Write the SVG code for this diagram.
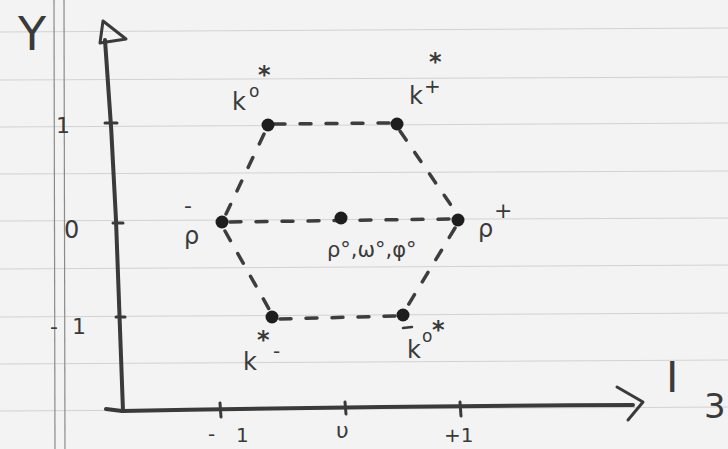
<svg xmlns="http://www.w3.org/2000/svg" width="728" height="449" viewBox="0 0 728 449">
<style>
.ink{fill:none;stroke:#3a3a3a;stroke-linecap:round;stroke-linejoin:round}
.ax{stroke-width:4}
.tk{stroke-width:3}
.dash{fill:none;stroke:#3d3d3d;stroke-width:3.5;stroke-dasharray:11 15;stroke-linecap:round}
.rule{stroke:#d2d2d2;stroke-width:1}
.margin{stroke:#8a8a8a;stroke-width:1.2}
.dot{fill:#1e1e1e}
text{font-family:"DejaVu Sans","Liberation Sans",sans-serif;fill:#3a3a3a}
.lb{font-size:24px}
.sup{font-size:17px}
.star{font-size:24px;font-weight:bold}
</style>
<rect width="728" height="449" fill="#f3f3f3"/>
<g id="paper">
<line class="rule" x1="0" y1="32" x2="728" y2="28"/>
<line class="rule" x1="0" y1="80" x2="728" y2="77"/>
<line class="rule" x1="0" y1="127" x2="728" y2="123"/>
<line class="rule" x1="0" y1="174" x2="728" y2="171"/>
<line class="rule" x1="0" y1="221" x2="728" y2="218"/>
<line class="rule" x1="0" y1="269" x2="728" y2="265"/>
<line class="rule" x1="0" y1="317" x2="728" y2="313"/>
<line class="rule" x1="0" y1="364" x2="728" y2="360"/>
<line class="rule" x1="0" y1="411" x2="728" y2="407"/>
<line class="margin" x1="54" y1="0" x2="55" y2="449"/>
<line class="margin" x1="64" y1="0" x2="65" y2="449"/>
</g>
<g id="axes">
<path class="ink ax" d="M105 40 Q112 130 116 220 Q120 320 123 411"/>
<path class="ink tk" d="M103 21 L126 39 L100 43 Z"/>
<path class="ink ax" d="M106 409 L122 411 Q380 406 633 405"/>
<path class="ink tk" d="M617 387 L643 402 L628 420"/>
<line class="ink tk" x1="105" y1="123" x2="117" y2="123"/>
<line class="ink tk" x1="113" y1="223" x2="123" y2="223"/>
<line class="ink tk" x1="116" y1="317" x2="125" y2="317"/>
<line class="ink tk" x1="220" y1="403" x2="221" y2="417"/>
<line class="ink tk" x1="345" y1="402" x2="346" y2="414"/>
<line class="ink tk" x1="460" y1="402" x2="461" y2="416"/>
</g>
<g id="axis-labels">
<text x="18" y="50" font-size="46">Y</text>
<text x="666" y="392" font-size="42">I</text>
<text x="704" y="418" font-size="34">3</text>
<text x="56" y="133" font-size="22">1</text>
<text x="64" y="238" font-size="24">0</text>
<text x="50" y="334" font-size="22">-</text>
<text x="72" y="334" font-size="22">1</text>
<text x="208" y="441" font-size="20">-</text>
<text x="236" y="442" font-size="20">1</text>
<text x="336" y="438" font-size="22">υ</text>
<text x="444" y="442" font-size="20">+1</text>
</g>
<g id="connectors">
<line class="dash" x1="274" y1="124" x2="390" y2="123"/>
<line class="dash" x1="264" y1="134" x2="226" y2="214"/>
<line class="dash" x1="230" y1="222" x2="450" y2="219"/>
<line class="dash" x1="400" y1="131" x2="455" y2="211"/>
<line class="dash" x1="225" y1="231" x2="269" y2="309"/>
<line class="dash" x1="280" y1="319" x2="395" y2="316"/>
<line class="dash" x1="455" y1="228" x2="407" y2="307"/>
</g>
<g id="K0star">
<circle class="dot" cx="268" cy="125" r="6.5"/>
<text class="lb" x="232" y="110">k</text>
<text class="sup" x="249" y="97">o</text>
<text class="star" x="258" y="83">*</text>
</g>
<g id="Kplusstar">
<circle class="dot" cx="397" cy="124" r="6.5"/>
<text class="lb" x="409" y="104">k</text>
<text x="424" y="93" font-size="20">+</text>
<text class="star" x="429" y="70">*</text>
</g>
<g id="rhominus">
<circle class="dot" cx="222" cy="222" r="6.5"/>
<text class="lb" x="184" y="244">ρ</text>
<text x="184" y="213" font-size="22">-</text>
</g>
<g id="rho0">
<circle class="dot" cx="341" cy="218" r="6.5"/>
<text x="327" y="257" font-size="21">ρ°,ω°,φ°</text>
</g>
<g id="rhoplus">
<circle class="dot" cx="458" cy="220" r="6.5"/>
<text class="lb" x="478" y="237">ρ</text>
<text x="494" y="218" font-size="22">+</text>
</g>
<g id="Kminusstar">
<circle class="dot" cx="272" cy="317" r="6.5"/>
<text class="lb" x="243" y="370">k</text>
<text class="star" x="257" y="348">*</text>
<text x="273" y="358" font-size="20">-</text>
</g>
<g id="K0barstar">
<circle class="dot" cx="403" cy="315" r="6.5"/>
<line class="ink" stroke-width="2.5" x1="403" y1="328" x2="412" y2="327"/>
<text class="lb" x="407" y="358">k</text>
<text class="sup" x="422" y="342">o</text>
<text class="star" x="432" y="338">*</text>
</g>
</svg>
